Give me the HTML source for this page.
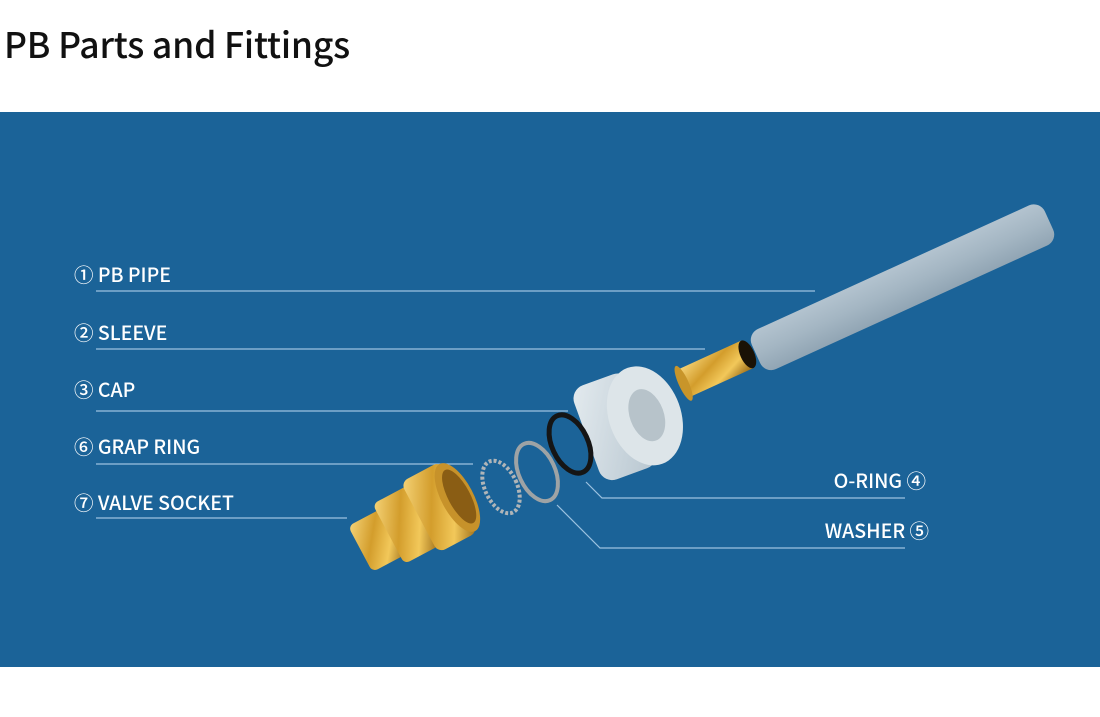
<!DOCTYPE html>
<html><head><meta charset="utf-8"><style>
html,body{margin:0;padding:0;background:#fff;width:1100px;height:717px;overflow:hidden}
.t{position:absolute;left:4px;top:18px;font:500 35.5px "Noto Sans CJK SC","Liberation Sans",sans-serif;color:#111;letter-spacing:-0.2px}
svg{position:absolute;left:0;top:0}
</style></head><body>
<div class="t">PB Parts and Fittings</div>
<svg width="1100" height="717" viewBox="0 0 1100 717">
<defs>
<linearGradient id="pipe" x1="0" y1="0" x2="0" y2="1">
<stop offset="0" stop-color="#b3c3cf"/><stop offset="0.5" stop-color="#a4b6c3"/><stop offset="1" stop-color="#91a5b4"/></linearGradient>
<linearGradient id="brass" x1="0" y1="0" x2="1" y2="1">
<stop offset="0" stop-color="#f6d57a"/><stop offset="0.4" stop-color="#d39d2c"/><stop offset="0.7" stop-color="#f2c85a"/><stop offset="1" stop-color="#9a6a16"/></linearGradient>
<linearGradient id="cap" x1="0" y1="0" x2="1" y2="1">
<stop offset="0" stop-color="#e4ebef"/><stop offset="1" stop-color="#b6c5cf"/></linearGradient>
</defs>
<rect x="0" y="112" width="1100" height="555" fill="#1b6398"/>
<g stroke="#9cc2e0" stroke-width="1.2" fill="none">
<line x1="96" y1="291" x2="815" y2="291"/>
<line x1="96" y1="349" x2="705" y2="349"/>
<line x1="96" y1="411" x2="568" y2="411"/>
<line x1="96" y1="464" x2="473" y2="464"/>
<line x1="96" y1="518" x2="347" y2="518"/>
<polyline points="586,482 602,498 905,498"/>
<polyline points="557,505 600,548 905,548"/>
</g>
<g font-family="'Noto Sans CJK SC','Liberation Sans',sans-serif" font-size="19.5" font-weight="500" fill="#fff">
<text x="74" y="282">① PB PIPE</text>
<text x="74" y="340">② SLEEVE</text>
<text x="74" y="397">③ CAP</text>
<text x="74" y="454">⑥ GRAP RING</text>
<text x="74" y="510">⑦ VALVE SOCKET</text>
<text x="926" y="488" text-anchor="end">O-RING ④</text>
<text x="929" y="538" text-anchor="end">WASHER ⑤</text>
</g>
<g transform="translate(756,354) rotate(-24.5)">
<rect x="0" y="-22" width="322" height="44" rx="12" fill="url(#pipe)"/>
</g>
<g transform="translate(680,385) rotate(-24.5)">
<rect x="4" y="-15" width="70" height="30" fill="url(#brass)"/>
<ellipse cx="74" cy="0" rx="7" ry="15" fill="#1a1206"/>
<ellipse cx="4" cy="0" rx="5" ry="19" fill="#c8952a"/>
</g>
<g transform="translate(628,422) rotate(-20)">
<rect x="-44" y="-50" width="60" height="100" rx="14" fill="url(#cap)"/>
<ellipse cx="18" cy="0" rx="36" ry="51" fill="#dde5e9"/>
<ellipse cx="20" cy="0" rx="17" ry="27" fill="#b7c3ca"/>
</g>
<ellipse cx="570" cy="444" rx="18" ry="31" transform="rotate(-25 570 444)" fill="none" stroke="#151515" stroke-width="5"/>
<ellipse cx="537" cy="472" rx="18" ry="31" transform="rotate(-25 537 472)" fill="none" stroke="#9ea3a5" stroke-width="4"/>
<ellipse cx="501" cy="487" rx="16" ry="28" transform="rotate(-25 501 487)" fill="none" stroke="#b0b5b8" stroke-width="4" stroke-dasharray="3 2"/>
<g transform="translate(415,520) rotate(-28)">
<rect x="-62" y="-26" width="40" height="52" rx="6" fill="url(#brass)"/>
<rect x="-30" y="-34" width="40" height="68" rx="6" fill="url(#brass)"/>
<rect x="5" y="-40" width="45" height="80" rx="8" fill="url(#brass)"/>
<ellipse cx="48" cy="0" rx="16" ry="38" fill="#c7922a"/>
<ellipse cx="50" cy="0" rx="11" ry="30" fill="#8a5d14"/>
</g>
</svg>
</body></html>
